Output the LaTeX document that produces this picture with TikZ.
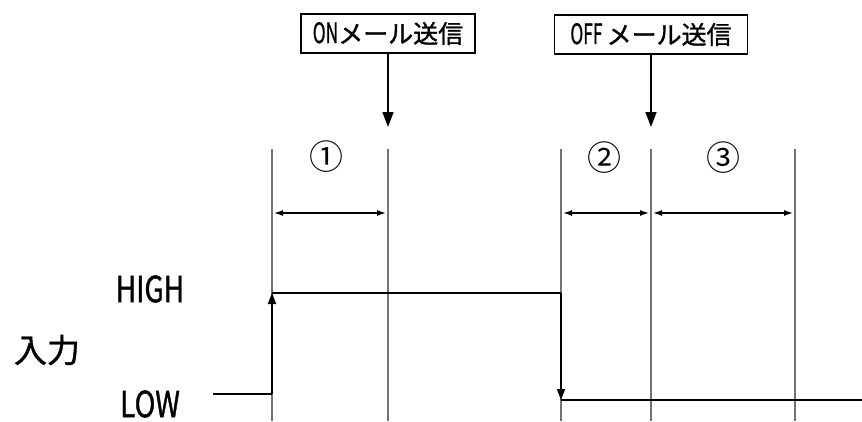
\documentclass[tikz,border=0pt]{standalone}
\usepackage{fontspec}
\setmainfont{Noto Sans CJK JP}[FakeBold=1.2]
\newfontfamily\circfont{Noto Sans CJK JP}
\usetikzlibrary{arrows.meta}
\newcommand{\nar}[3]{{\fontsize{#1}{#1}\selectfont\scalebox{#2}[1]{#3}}}
\tikzset{
  guide/.style={draw=black!55, line width=1.4pt},
  sig/.style={draw=black, line width=2pt},
  sigarrow/.style={sig, -{Triangle[length=11pt,width=8pt]}},
  bigarrow/.style={draw=black, line width=1.6pt, -{Triangle[length=15pt,width=11pt]}},
  dim/.style={draw=black, line width=1.3pt, {Latex[length=9pt,width=6pt]}-{Latex[length=9pt,width=6pt]}},
  mailbox/.style={draw=black, line width=1.5pt, minimum height=39pt, inner sep=0pt, font=\fontsize{25}{25}\selectfont},
  lvl/.style={font=\fontsize{33}{33}\selectfont, inner sep=0pt},
  circ/.style={font=\circfont\fontsize{34}{34}\selectfont, inner sep=0pt}
}
\begin{document}
\begin{tikzpicture}[x=1pt,y=-1pt]
\useasboundingbox (0,0) rectangle (862,421);
% mail boxes
\node[mailbox, minimum width=174pt] (on) at (388,33.5) {\nar{28}{0.62}{ON}メール送信};
\node[mailbox, minimum width=193pt] (off) at (651,34.5) {\nar{28}{0.62}{OFF}\,メール送信};
\coordinate (onTip) at (388,127);
\coordinate (offTip) at (651,127);
\draw[bigarrow] (on.south) -- (onTip);
\draw[bigarrow] (off.south) -- (offTip);
% vertical guide lines
\coordinate (v1t) at (272,149); \coordinate (v1b) at (272,421);
\coordinate (v2t) at (388,149); \coordinate (v2b) at (388,421);
\coordinate (v3t) at (561,149); \coordinate (v3b) at (561,421);
\coordinate (v4t) at (651,149); \coordinate (v4b) at (651,421);
\coordinate (v5t) at (795,149); \coordinate (v5b) at (795,421);
\draw[guide] (v1t) -- (v1b);
\draw[guide] (v2t) -- (v2b);
\draw[guide] (v3t) -- (v3b);
\draw[guide] (v4t) -- (v4b);
\draw[guide] (v5t) -- (v5b);
% circled numbers
\node[circ] (n1) at (326,156.5) {①};
\node[circ] (n2) at (604,158) {②};
\node[circ] (n3) at (723,158) {③};
% dimension arrows
\coordinate (d1a) at (274,213); \coordinate (d1b) at (386,213);
\coordinate (d2a) at (563,213); \coordinate (d2b) at (649,213);
\coordinate (d3a) at (653,213); \coordinate (d3b) at (793,213);
\draw[dim] (d1a) -- (d1b);
\draw[dim] (d2a) -- (d2b);
\draw[dim] (d3a) -- (d3b);
% labels
\node[inner sep=0pt] (high) at (150,289) {\nar{36}{0.78}{HIGH}};
\node[inner sep=0pt] (low) at (150,404) {\nar{36}{0.78}{LOW}};
\node[lvl] (inp) at (47,350) {入力};
% signal
\coordinate (s0) at (213,394);
\coordinate (s1) at (272,394);
\coordinate (s2) at (272,293);
\coordinate (s3) at (561,293);
\coordinate (s4) at (561,400);
\coordinate (s5) at (862,400);
\draw[sig] (s0) -- (s1);
\draw[sigarrow] (s1) -- (s2);
\draw[sig] (s2) -- (s3);
\draw[sigarrow] (s3) -- (s4);
\draw[sig] (s4) -- (s5);
\end{tikzpicture}
\end{document}
